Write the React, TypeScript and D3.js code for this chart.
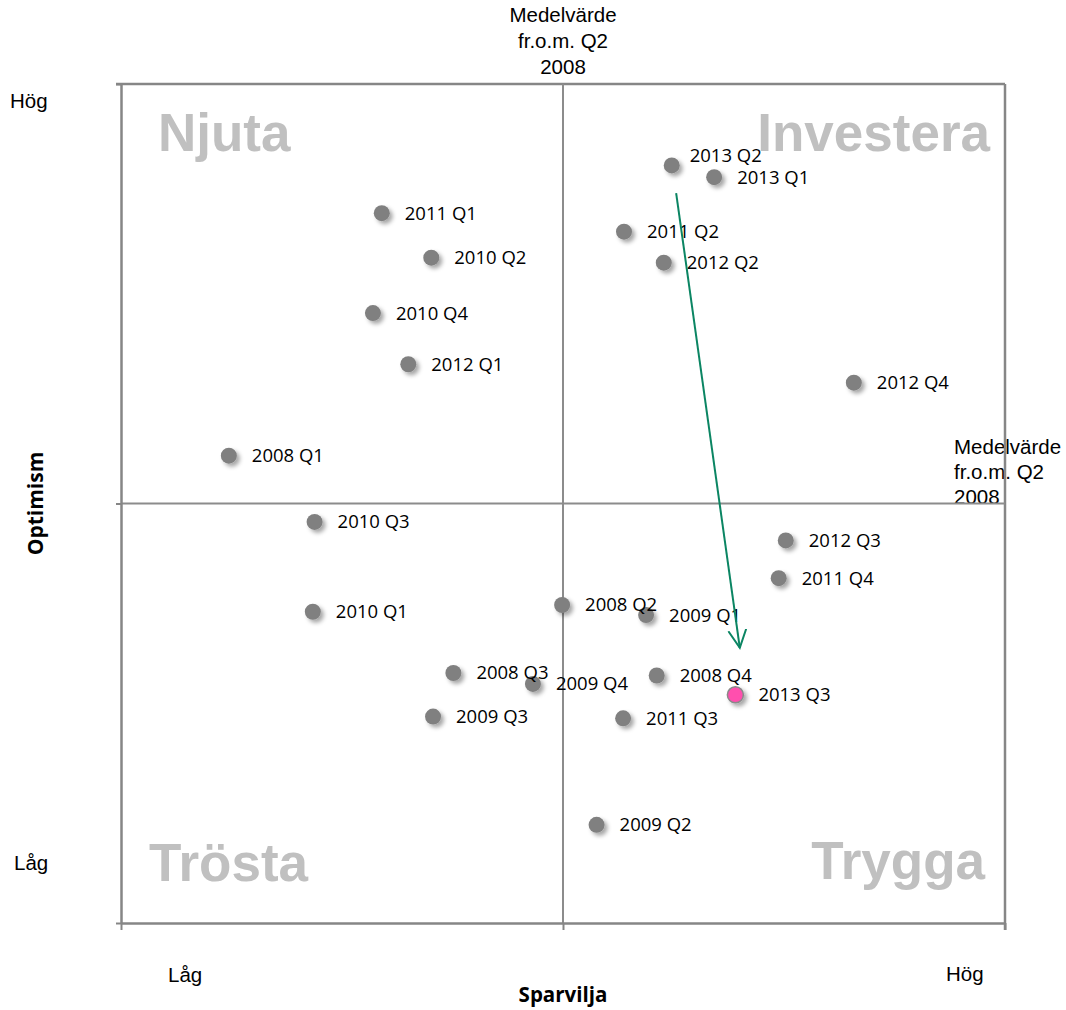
import React, { useEffect, useRef } from "react";
import * as d3 from "d3";

// Quarter labels with position on the two axes (0-100 index, 50 = mean from Q2 2008)
const quarters = [
  "2013 Q2", "2013 Q1", "2011 Q1", "2011 Q2", "2010 Q2", "2012 Q2", "2010 Q4",
  "2012 Q1", "2012 Q4", "2008 Q1", "2010 Q3", "2012 Q3", "2011 Q4", "2008 Q2",
  "2009 Q1", "2010 Q1", "2008 Q3", "2009 Q4", "2008 Q4", "2013 Q3", "2009 Q3",
  "2011 Q3", "2009 Q2",
];
const sparvilja = [
  62.3, 67.1, 29.5, 56.9, 35.1, 61.4, 28.5,
  32.5, 82.9, 12.2, 21.9, 75.2, 74.4, 49.9,
  59.4, 21.7, 37.6, 46.6, 60.6, 69.5, 35.3,
  56.8, 53.8,
];
const optimism = [
  90.3, 88.9, 84.6, 82.4, 79.3, 78.7, 72.7,
  66.6, 64.4, 55.7, 47.8, 45.6, 41.1, 37.9,
  36.7, 37.1, 29.8, 28.5, 29.5, 27.2, 24.6,
  24.4, 11.7,
];
const latest = "2013 Q3";

// trend arrow (data coords)
const arrowFrom = [62.8, 87.0];
const arrowTo = [70.0, 32.8];

const axisTicks = [0, 50, 100];
const meanLabel = ["Medelvärde", "fr.o.m. Q2", "2008"];

const width = 1066;
const height = 1010;
const margin = { top: 84, right: 61, bottom: 87, left: 121 };

const App: React.FC = () => {
  const svgRef = useRef<SVGSVGElement>(null);

  useEffect(() => {
    if (!svgRef.current) return;
    const svg = d3.select(svgRef.current);
    svg.selectAll("*").remove();

    const innerWidth = width - margin.left - margin.right;
    const innerHeight = height - margin.top - margin.bottom;

    const x = d3.scaleLinear().domain([0, 100]).range([0, innerWidth]);
    const y = d3.scaleLinear().domain([0, 100]).range([innerHeight, 0]);

    const defs = svg.append("defs");
    defs
      .append("filter")
      .attr("id", "shadow")
      .attr("x", "-50%")
      .attr("y", "-50%")
      .attr("width", "200%")
      .attr("height", "200%")
      .append("feDropShadow")
      .attr("dx", 3)
      .attr("dy", 3)
      .attr("stdDeviation", 2)
      .attr("flood-color", "#000")
      .attr("flood-opacity", 0.35);

    const arrowColor = "#0b8563";
    defs
      .append("marker")
      .attr("id", "arrowhead")
      .attr("viewBox", "0 0 20 20")
      .attr("refX", 18)
      .attr("refY", 10)
      .attr("markerWidth", 20)
      .attr("markerHeight", 20)
      .attr("markerUnits", "userSpaceOnUse")
      .attr("orient", "auto")
      .append("path")
      .attr("d", "M0,1 L18,10 L0,19")
      .attr("fill", "none")
      .attr("stroke", arrowColor)
      .attr("stroke-width", 2);

    const axisColor = "#868686";
    const g = svg
      .append("g")
      .attr("transform", `translate(${margin.left},${margin.top})`);

    // quadrant names
    const quad = [
      { t: "Njuta", x: 37, y: 67, anchor: "start" },
      { t: "Investera", x: innerWidth - 15, y: 67, anchor: "end" },
      { t: "Trösta", x: 28, y: 797, anchor: "start" },
      { t: "Trygga", x: innerWidth - 20, y: 795, anchor: "end" },
    ];
    g.selectAll("text.quad")
      .data(quad)
      .enter()
      .append("text")
      .attr("class", "quad")
      .attr("x", (d) => d.x)
      .attr("y", (d) => d.y)
      .attr("text-anchor", (d) => d.anchor)
      .attr("font-family", "'Liberation Sans', Arial, sans-serif")
      .attr("font-weight", "bold")
      .attr("font-size", "53px")
      .attr("fill", "#c0c0c0")
      .text((d) => d.t);

    // right mean label (sits under the lines)
    const rightLabel = g
      .append("text")
      .attr("x", innerWidth - 51)
      .attr("y", y(50) - 50)
      .attr("font-family", "'Liberation Sans', Arial, sans-serif")
      .attr("font-size", "20.5px")
      .attr("fill", "#000");
    meanLabel.forEach((l, i) =>
      rightLabel
        .append("tspan")
        .attr("x", innerWidth - 51)
        .attr("dy", i === 0 ? 0 : 25)
        .text(l)
    );

    // frame
    g.append("line")
      .attr("x1", -5)
      .attr("x2", innerWidth)
      .attr("y1", 0)
      .attr("y2", 0)
      .attr("stroke", axisColor)
      .attr("stroke-width", 2.5);
    g.append("line")
      .attr("x1", innerWidth)
      .attr("x2", innerWidth)
      .attr("y1", 0)
      .attr("y2", innerHeight + 7)
      .attr("stroke", axisColor)
      .attr("stroke-width", 2.5);

    // mean lines
    g.append("line")
      .attr("x1", x(50))
      .attr("x2", x(50))
      .attr("y1", 0)
      .attr("y2", innerHeight)
      .attr("stroke", "#8c8c8c")
      .attr("stroke-width", 2);
    g.append("line")
      .attr("x1", 0)
      .attr("x2", innerWidth)
      .attr("y1", y(50))
      .attr("y2", y(50))
      .attr("stroke", "#8c8c8c")
      .attr("stroke-width", 2);

    // axes
    const xAxis = g
      .append("g")
      .attr("transform", `translate(0,${innerHeight})`)
      .call(
        d3
          .axisBottom(x)
          .tickValues(axisTicks)
          .tickSize(7)
          .tickSizeOuter(0)
          .tickFormat(() => "")
      );
    const yAxis = g.append("g").call(
      d3
        .axisLeft(y)
        .tickValues(axisTicks)
        .tickSize(5)
        .tickSizeOuter(0)
        .tickFormat(() => "")
    );
    [xAxis, yAxis].forEach((a) => {
      a.selectAll("path").attr("stroke", axisColor).attr("stroke-width", 2.5);
      a.selectAll("line").attr("stroke", axisColor).attr("stroke-width", 2);
    });

    // points
    const data = quarters.map((q, i) => ({
      q,
      sx: sparvilja[i],
      oy: optimism[i],
    }));

    g.selectAll("circle.pt")
      .data(data)
      .enter()
      .append("circle")
      .attr("class", "pt")
      .attr("cx", (d) => x(d.sx))
      .attr("cy", (d) => y(d.oy))
      .attr("r", 8)
      .attr("fill", (d) => (d.q === latest ? "#ff4fae" : "#808080"))
      .attr("stroke", (d) => (d.q === latest ? "#8a8a8a" : "none"))
      .attr("stroke-width", 1.5)
      .attr("filter", "url(#shadow)");

    g.selectAll("text.lbl")
      .data(data)
      .enter()
      .append("text")
      .attr("class", "lbl")
      .attr("x", (d) => x(d.sx) + (d.q === "2013 Q2" ? 18 : 23))
      .attr("y", (d) => y(d.oy) + (d.q === "2013 Q2" ? -10 : 0))
      .attr("dy", "0.35em")
      .attr("font-family", "'Open Sans', sans-serif")
      .attr("font-size", "18.5px")
      .attr("fill", "#000")
      .text((d) => d.q);

    // trend arrow
    g.append("line")
      .attr("x1", x(arrowFrom[0]))
      .attr("y1", y(arrowFrom[1]))
      .attr("x2", x(arrowTo[0]))
      .attr("y2", y(arrowTo[1]))
      .attr("stroke", arrowColor)
      .attr("stroke-width", 2)
      .attr("marker-end", "url(#arrowhead)");

    // top mean label
    const topLabel = svg
      .append("text")
      .attr("x", margin.left + x(50))
      .attr("y", 22)
      .attr("text-anchor", "middle")
      .attr("font-family", "'Liberation Sans', Arial, sans-serif")
      .attr("font-size", "20.5px")
      .attr("fill", "#000");
    meanLabel.forEach((l, i) =>
      topLabel
        .append("tspan")
        .attr("x", margin.left + x(50))
        .attr("dy", i === 0 ? 0 : 26)
        .text(l)
    );

    // axis end labels
    const small = [
      { t: "Hög", x: 10, y: 108 },
      { t: "Låg", x: 14, y: 870 },
      { t: "Låg", x: 168, y: 982 },
      { t: "Hög", x: 946, y: 981 },
    ];
    svg
      .selectAll("text.end")
      .data(small)
      .enter()
      .append("text")
      .attr("class", "end")
      .attr("x", (d) => d.x)
      .attr("y", (d) => d.y)
      .attr("font-family", "'Liberation Sans', Arial, sans-serif")
      .attr("font-size", "20.5px")
      .attr("fill", "#000")
      .text((d) => d.t);

    svg
      .append("text")
      .attr("x", margin.left + x(50))
      .attr("y", 1002)
      .attr("text-anchor", "middle")
      .attr("font-family", "'Open Sans', sans-serif")
      .attr("font-weight", "bold")
      .attr("font-size", "20.5px")
      .attr("fill", "#000")
      .text("Sparvilja");

    svg
      .append("text")
      .attr("transform", `translate(43,${margin.top + y(50)}) rotate(-90)`)
      .attr("text-anchor", "middle")
      .attr("font-family", "'Open Sans', sans-serif")
      .attr("font-weight", "bold")
      .attr("font-size", "21px")
      .attr("fill", "#000")
      .text("Optimism");
  }, []);

  return (
    <svg
      ref={svgRef}
      width={width}
      height={height}
      style={{ position: "absolute", left: 0, top: 0, background: "#fff" }}
    />
  );
};

export default App;
